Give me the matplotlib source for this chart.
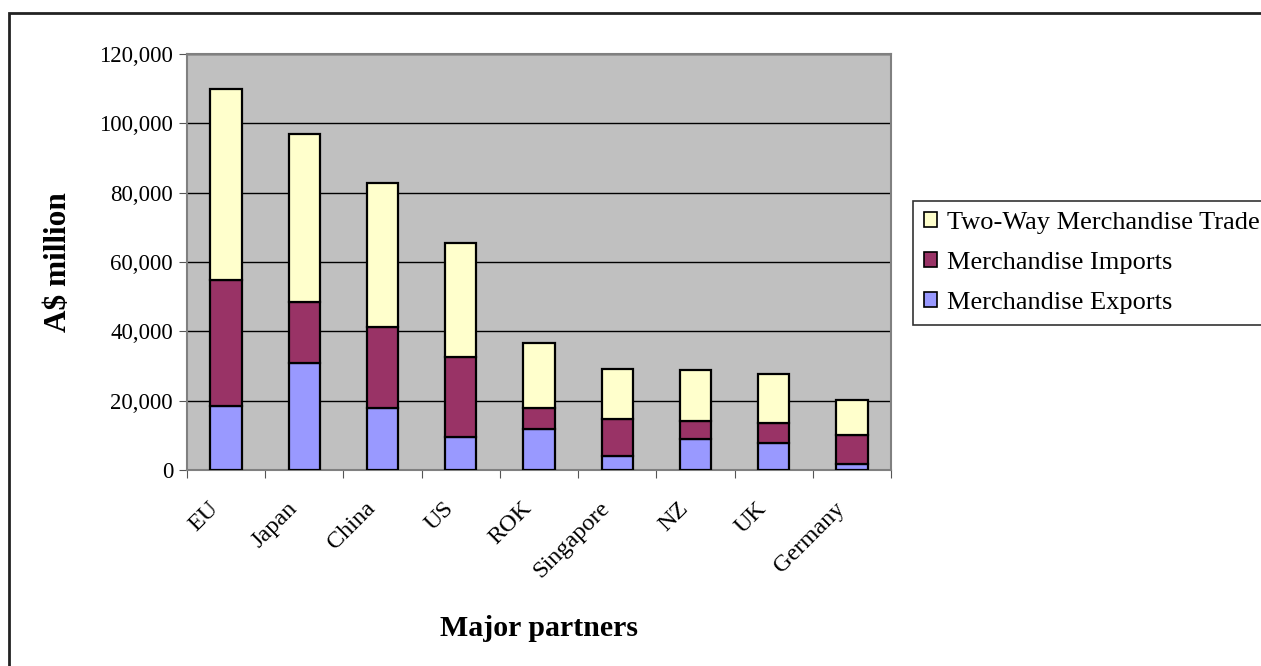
# Stacked bar chart of merchandise trade with major partners
import numpy as np
import matplotlib.pyplot as plt
import matplotlib.transforms as mtransforms
from matplotlib.patches import Rectangle
from matplotlib.ticker import FuncFormatter

# Data (A$ million), segment heights
partners = ['EU', 'Japan', 'China', 'US', 'ROK', 'Singapore', 'NZ', 'UK', 'Germany']
exports = [18500, 31000, 18000, 9600, 11800, 3900, 8900, 7900, 1600]
imports = [36300, 17400, 23200, 23100, 6200, 10700, 5100, 5600, 8600]
two_way = [55200, 48400, 41500, 32700, 18600, 14600, 14800, 14100, 10100]

COLORS = {'exp': '#9999FF', 'imp': '#993366', 'two': '#FFFFCC'}
FONT = 'Liberation Serif'

plt.rcParams['font.family'] = FONT

# Creates the chart
def trade_plot():
    W, H = 1261, 666
    fig = plt.figure(figsize=(W/100, H/100), dpi=100)

    # outer chart border (runs off the right and bottom edges)
    fig.patches.append(Rectangle(
        (9/W, -0.05), 1.2, 1 - 13/H + 0.05,
        transform=fig.transFigure, fill=False,
        edgecolor='#222222', lw=2))

    ax = fig.add_axes([187/W, 1 - 470/H, (891-187)/W, (470-54)/H])
    ax.set_facecolor('#C0C0C0')

    x = np.arange(len(partners))
    bottom_imp = np.array(exports)
    bottom_two = bottom_imp + np.array(imports)
    kw = dict(width=0.4, edgecolor='black', linewidth=1.6, zorder=3)
    b1 = ax.bar(x, exports, color=COLORS['exp'], label='Merchandise Exports', **kw)
    b2 = ax.bar(x, imports, bottom=bottom_imp, color=COLORS['imp'],
                label='Merchandise Imports', **kw)
    b3 = ax.bar(x, two_way, bottom=bottom_two, color=COLORS['two'],
                label='Two-Way Merchandise Trade', **kw)

    # axes, ticks and grid
    ax.set_xlim(-0.5, len(partners) - 0.5)
    ax.set_ylim(0, 120000)
    ax.set_yticks(np.arange(0, 120001, 20000))
    ax.yaxis.set_major_formatter(FuncFormatter(lambda v, p: f'{int(v):,}'))
    ax.yaxis.grid(True, color='black', lw=1, zorder=1)
    ax.set_axisbelow(True)
    ax.set_xticks(np.arange(-0.5, len(partners)), minor=False)
    ax.set_xticklabels([])
    ax.set_xticks(x, minor=True)
    ax.set_xticklabels(partners, minor=True, rotation=45, ha='right',
                       va='top', rotation_mode='anchor', fontsize=17.5)
    ax.tick_params(axis='x', which='minor', length=0, pad=10)
    ax.tick_params(axis='x', which='major', length=6, color='#555555',
                   direction='out')
    ax.tick_params(axis='y', length=6, color='#555555', direction='out',
                   labelsize=16.5, pad=4)
    # nudge rotated labels down-left like the original
    shift = mtransforms.ScaledTranslation(-18/100, -14/100, fig.dpi_scale_trans)
    for lab in ax.get_xticklabels(minor=True):
        lab.set_transform(lab.get_transform() + shift)
    for s in ax.spines.values():
        s.set_color('#808080')
        s.set_linewidth(1.5)

    # labels and legend
    fig.text(58/W, 1 - 262/H, 'A$ million', rotation=90, ha='center',
             va='center', fontsize=22.5, fontweight='bold')
    fig.text(539/W, 1 - 628/H, 'Major partners', ha='center', va='center',
             fontsize=21.5, fontweight='bold')
    leg = ax.legend(
        [b3, b2, b1],
        ['Two-Way Merchandise Trade', 'Merchandise Imports', 'Merchandise Exports'],
        loc='upper left', bbox_to_anchor=(913/W, 1 - 201/H),
        bbox_transform=fig.transFigure, borderaxespad=0,
        fontsize=19, frameon=True, fancybox=False, edgecolor='black',
        handlelength=0.5, handleheight=0.5, handletextpad=0.35,
        labelspacing=0.68, borderpad=0.42)
    leg.get_frame().set_linewidth(1.2)
    for h in leg.legend_handles:
        h.set_linewidth(1.2)
    return fig

fig = trade_plot()
fig.savefig('out.png', dpi=100, facecolor='white')
